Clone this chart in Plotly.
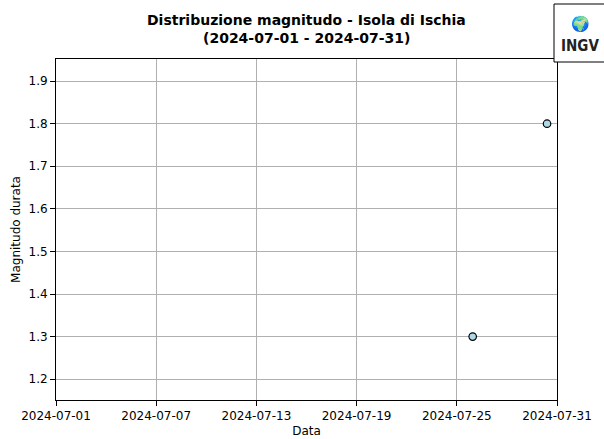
import plotly.graph_objects as go

dates = ["2024-07-25 22:50", "2024-07-30 09:40"]
magnitudes = [1.3, 1.8]
tick_dates = ["2024-07-01", "2024-07-07", "2024-07-13", "2024-07-19", "2024-07-25", "2024-07-31"]
y_ticks = [1.2, 1.3, 1.4, 1.5, 1.6, 1.7, 1.8, 1.9]

W, H = 604, 439
L, R, T, B = 56, 557, 59, 400

fig = go.Figure()
fig.add_trace(go.Scatter(
    x=dates, y=magnitudes, mode="markers",
    marker=dict(size=7.5, color="#add8e6", line=dict(color="black", width=1.2)),
    showlegend=False,
))

def px2paper(px, py):
    return (px - L) / (R - L), (B - py) / (B - T)

def add_text(px, py, text, size, family="DejaVu Sans", color="black"):
    ax, ay = px2paper(px, py)
    fig.add_annotation(xref="paper", yref="paper", x=ax, y=ay, text=text, showarrow=False,
                       xanchor="center", yanchor="middle",
                       font=dict(size=size, family=family, color=color))

x0, y0 = px2paper(554, 62)
x1, y1 = px2paper(606, 4)
fig.add_shape(type="rect", xref="paper", yref="paper", x0=x0, y0=y0, x1=x1, y1=y1,
              line=dict(color="black", width=1), fillcolor="white", layer="above")
add_text(580, 24, "🌍", 15)
add_text(580, 46, "<b>INGV</b>", 15, family="DejaVu Sans Condensed, DejaVu Sans", color="#222")

add_text((L + R) / 2, 20, "<b>Distribuzione magnitudo - Isola di Ischia</b>", 14)
add_text((L + R) / 2, 38, "<b>(2024-07-01 - 2024-07-31)</b>", 14)

fig.update_layout(
    width=W, height=H,
    margin=dict(l=L, r=W - R, t=T, b=H - B),
    paper_bgcolor="white", plot_bgcolor="white",
    font=dict(family="DejaVu Sans", size=12, color="black"),
    xaxis=dict(
        type="date", range=["2024-07-01", "2024-07-31"],
        tickmode="array", tickvals=tick_dates, ticktext=tick_dates,
        showgrid=True, gridcolor="#b0b0b0", gridwidth=1,
        showline=True, linecolor="black", linewidth=1, mirror=True,
        ticks="outside", ticklen=5, tickcolor="black",
        title=dict(text="Data", standoff=4, font=dict(size=12)),
        zeroline=False, automargin=False,
    ),
    yaxis=dict(
        range=[1.151, 1.952],
        tickmode="array", tickvals=y_ticks, ticktext=[f"{v:.1f}" for v in y_ticks],
        showgrid=True, gridcolor="#b0b0b0", gridwidth=1,
        showline=True, linecolor="black", linewidth=1, mirror=True,
        ticks="outside", ticklen=5, tickcolor="black",
        title=dict(text="Magnitudo durata", standoff=5, font=dict(size=12)),
        zeroline=False, automargin=False,
    ),
)

fig.write_html("out.html", config={"displayModeBar": False},
               post_script="document.body.style.margin='0';document.body.style.overflow='hidden';")
